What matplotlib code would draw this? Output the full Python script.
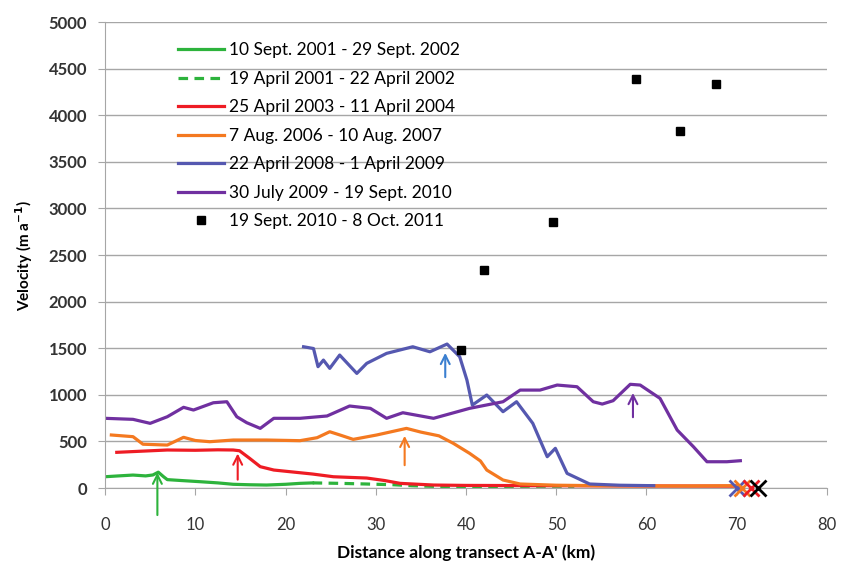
import matplotlib
matplotlib.use("Agg")
import matplotlib.pyplot as plt

plt.rcParams['font.family'] = ['Lato', 'DejaVu Sans']

# 10 Sept. 2001 - 29 Sept. 2002 (green solid)
g1_x = [0, 1.5, 3.1, 4.5, 5.3, 5.9, 6.5, 6.9, 8.5, 10.5, 12.5, 14.2, 16, 17.9, 20, 21.6, 23]
g1_y = [121, 130, 139, 130, 140, 170, 120, 90, 80, 68, 55, 40, 35, 32, 40, 50, 55]

# 19 April 2001 - 22 April 2002 (green dashed)
g2_x = [23, 26, 29, 32, 34, 36.4, 40, 45, 50, 52]
g2_y = [55, 50, 43, 35, 25, 18, 15, 18, 20, 20]

# 25 April 2003 - 11 April 2004 (red)
r_x = [1.3, 4, 6.9, 10, 12.5, 14.2, 14.9, 16, 17.2, 18.7, 21, 23, 25.3, 29, 31, 32.7, 36.4, 40, 50, 60, 70]
r_y = [383, 395, 408, 405, 410, 408, 400, 320, 229, 193, 170, 150, 121, 107, 80, 50, 32, 28, 25, 22, 20]

# 7 Aug. 2006 - 10 Aug. 2007 (orange)
o_x = [0.7, 3.1, 4.2, 6.9, 8.7, 10, 11.6, 14.2, 17.9, 21.6, 23.5, 24.9, 26, 27.5, 30.1, 33.4,
       35, 37, 38.6, 40.4, 41.6, 42.3, 44.1, 46, 50, 55, 60, 65, 70]
o_y = [569, 551, 470, 461, 544, 510, 497, 515, 515, 508, 540, 604, 570, 522, 569, 640,
       600, 560, 479, 372, 290, 193, 86, 43, 30, 25, 22, 22, 25]

# 22 April 2008 - 1 April 2009 (blue)
b_x = [22, 23.1, 23.6, 24.2, 24.9, 26, 27.9, 29, 31.2, 34.1, 36, 37.9, 39.3, 40.1, 40.7,
       42.3, 44.1, 45.6, 47.4, 49, 49.9, 51.2, 53.7, 57, 60.8]
b_y = [1516, 1497, 1302, 1373, 1284, 1427, 1230, 1338, 1445, 1516, 1462, 1545, 1409, 1159, 890,
       998, 819, 926, 694, 336, 426, 157, 43, 30, 25]

# 30 July 2009 - 19 Sept. 2010 (purple)
p_x = [0, 3.1, 5, 6.9, 8.7, 9.8, 12, 13.5, 14.6, 15.7, 17.2, 18.7, 21.6, 24.6, 27.1, 29.4, 31.2,
       33, 36.4, 40.4, 44.1, 46, 48.2, 50.1, 52.3, 54.1, 55.1, 56.3, 58.2, 59.3, 61.5, 63.4,
       65.2, 66.7, 68.9, 70.4]
p_y = [748, 737, 694, 765, 866, 837, 915, 926, 765, 701, 640, 748, 748, 773, 880, 855, 748,
       808, 748, 855, 926, 1051, 1051, 1105, 1087, 926, 901, 937, 1113, 1105, 962, 622,
       443, 282, 282, 293]

# 19 Sept. 2010 - 8 Oct. 2011 (black squares)
k_x = [39.4, 42.0, 49.6, 58.8, 63.7, 67.7]
k_y = [1481, 2339, 2854, 4388, 3830, 4335]

# arrows: x, tail, tip
arrow_x = [5.8, 14.7, 33.2, 37.7, 58.5]
arrow_tail = [-320, 60, 215, 1160, 730]
arrow_tip = [195, 400, 590, 1480, 1050]
arrow_col = ['#2db33c', '#ee1c24', '#f47920', '#3a7fd0', '#7030a0']

# end-of-transect crosses
cross_x = [70.0, 70.6, 71.6, 72.4]
cross_col = ['#5558b0', '#f47920', '#ee1c24', '#000000']

fig = plt.figure(figsize=(8.43, 5.67), dpi=100)
ax = fig.add_axes([0.1246, 0.1393, 0.8564, 0.8217])

lw = 2.3
ax.plot(g1_x, g1_y, color='#2db33c', lw=lw, label='10 Sept. 2001 - 29 Sept. 2002')
ax.plot(g2_x, g2_y, color='#2db33c', lw=lw, ls=(0, (3, 2)), label='19 April 2001 - 22 April 2002')
ax.plot(r_x, r_y, color='#ee1c24', lw=lw, label='25 April 2003 - 11 April 2004')
ax.plot(o_x, o_y, color='#f47920', lw=lw, label='7 Aug. 2006 - 10 Aug. 2007')
ax.plot(b_x, b_y, color='#5558b0', lw=lw, label='22 April 2008 - 1 April 2009')
ax.plot(p_x, p_y, color='#7030a0', lw=lw, label='30 July 2009 - 19 Sept. 2010')
ax.plot(k_x, k_y, 's', color='black', ms=5.5, ls='none', label='19 Sept. 2010 - 8 Oct. 2011')

for x, c in zip(cross_x, cross_col):
    ax.plot([x], [0], marker='x', color=c, ms=11, mew=2, ls='none', clip_on=False, zorder=5)

for x, t0, t1, c in zip(arrow_x, arrow_tail, arrow_tip, arrow_col):
    ax.annotate('', xy=(x, t1), xytext=(x, t0), annotation_clip=False,
                arrowprops=dict(arrowstyle='->', color=c, lw=1.5, mutation_scale=16))

ax.set_xlim(0, 80)
ax.set_ylim(0, 5000)
ax.set_xticks(range(0, 81, 10))
ax.set_yticks(range(0, 5001, 500))
ax.yaxis.grid(True, color='#a6a6a6', lw=1)
ax.set_axisbelow(True)
for s in ['top', 'right']:
    ax.spines[s].set_visible(False)
for s in ['left', 'bottom']:
    ax.spines[s].set_color('#a6a6a6')
ax.tick_params(axis='both', colors='#a6a6a6', length=5, labelcolor='#333333', labelsize=12)
for lab in ax.get_yticklabels():
    lab.set_fontweight('bold')
ax.tick_params(axis='x', pad=16)
ax.tick_params(axis='y', pad=8)

ax.set_xlabel("Distance along transect A-A' (km)", fontsize=12.5, fontweight='bold', labelpad=8)
ax.set_ylabel(r'Velocity (m a$^{\mathbf{-1}}$)', fontsize=11, fontweight='bold', labelpad=10)

ax.legend(loc='upper left', bbox_to_anchor=(0.08, 0.99), frameon=False, fontsize=12.5,
          handlelength=2.6, handletextpad=0.3, labelspacing=0.72)

fig.savefig('out.png', dpi=100)
